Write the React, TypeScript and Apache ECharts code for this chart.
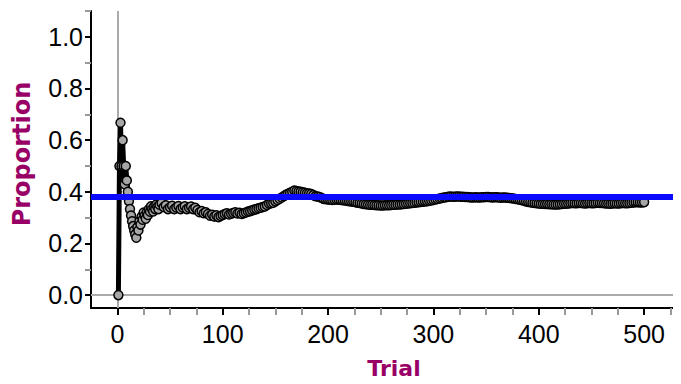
import React, { useEffect, useRef } from "react";
import * as echarts from "echarts";

// Trial numbers (x) and running proportion (y)
const trials = [
  1, 2, 3, 4, 5, 6, 7, 8, 9, 10,
  11, 12, 13, 14, 15, 16, 17, 18, 19, 20,
  21, 22, 23, 24, 25, 26, 27, 28, 29, 30,
  31, 32, 33, 34, 35, 36, 37, 38, 39, 40,
  42, 44, 46, 48, 50, 52, 54, 56, 58, 60,
  62, 64, 66, 68, 70, 72, 74, 76, 78, 80,
  82, 84, 86, 88, 90, 92, 94, 96, 98, 100,
  102, 104, 106, 108, 110, 112, 114, 116, 118, 120,
  122, 124, 126, 128, 130, 132, 134, 136, 138, 140,
  142, 144, 146, 148, 150, 152, 154, 156, 158, 160,
  162, 164, 166, 168, 170, 172, 174, 176, 178, 180,
  182, 184, 186, 188, 190, 192, 194, 196, 198, 200,
  202, 204, 206, 208, 210, 212, 214, 216, 218, 220,
  222, 224, 226, 228, 230, 232, 234, 236, 238, 240,
  242, 244, 246, 248, 250, 252, 254, 256, 258, 260,
  262, 264, 266, 268, 270, 272, 274, 276, 278, 280,
  282, 284, 286, 288, 290, 292, 294, 296, 298, 300,
  302, 304, 306, 308, 310, 312, 314, 316, 318, 320,
  322, 324, 326, 328, 330, 332, 334, 336, 338, 340,
  342, 344, 346, 348, 350, 352, 354, 356, 358, 360,
  362, 364, 366, 368, 370, 372, 374, 376, 378, 380,
  382, 384, 386, 388, 390, 392, 394, 396, 398, 400,
  402, 404, 406, 408, 410, 412, 414, 416, 418, 420,
  422, 424, 426, 428, 430, 432, 434, 436, 438, 440,
  442, 444, 446, 448, 450, 452, 454, 456, 458, 460,
  462, 464, 466, 468, 470, 472, 474, 476, 478, 480,
  482, 484, 486, 488, 490, 492, 494, 496, 498, 500,
];

const proportion = [
  0, 0.5, 0.667, 0.5, 0.6, 0.5, 0.429, 0.5, 0.444, 0.4,
  0.364, 0.333, 0.308, 0.286, 0.267, 0.25, 0.235, 0.222, 0.263, 0.25,
  0.286, 0.273, 0.304, 0.292, 0.32, 0.308, 0.296, 0.321, 0.31, 0.333,
  0.323, 0.344, 0.333, 0.324, 0.343, 0.333, 0.351, 0.342, 0.333, 0.35,
  0.357, 0.341, 0.348, 0.333, 0.34, 0.346, 0.333, 0.339, 0.345, 0.333,
  0.339, 0.344, 0.333, 0.338, 0.343, 0.333, 0.338, 0.329, 0.321, 0.325,
  0.317, 0.321, 0.314, 0.307, 0.311, 0.304, 0.309, 0.302, 0.306, 0.31,
  0.314, 0.317, 0.312, 0.315, 0.318, 0.321, 0.316, 0.319, 0.314, 0.317,
  0.32, 0.323, 0.325, 0.328, 0.331, 0.333, 0.336, 0.338, 0.341, 0.343,
  0.349, 0.354, 0.356, 0.358, 0.363, 0.368, 0.373, 0.378, 0.383, 0.388,
  0.392, 0.396, 0.4, 0.405, 0.403, 0.401, 0.4, 0.398, 0.396, 0.394,
  0.393, 0.391, 0.387, 0.383, 0.382, 0.38, 0.376, 0.372, 0.371, 0.37,
  0.369, 0.368, 0.369, 0.37, 0.369, 0.368, 0.367, 0.366, 0.365, 0.364,
  0.363, 0.362, 0.36, 0.358, 0.357, 0.355, 0.353, 0.352, 0.351, 0.35,
  0.35, 0.349, 0.348, 0.348, 0.347, 0.347, 0.348, 0.348, 0.348, 0.349,
  0.35, 0.35, 0.351, 0.351, 0.352, 0.353, 0.354, 0.355, 0.356, 0.357,
  0.358, 0.359, 0.36, 0.361, 0.362, 0.363, 0.364, 0.365, 0.366, 0.368,
  0.37, 0.372, 0.374, 0.376, 0.378, 0.379, 0.381, 0.382, 0.381, 0.381,
  0.382, 0.382, 0.381, 0.381, 0.38, 0.38, 0.379, 0.378, 0.378, 0.379,
  0.378, 0.378, 0.379, 0.379, 0.38, 0.38, 0.379, 0.378, 0.379, 0.379,
  0.378, 0.377, 0.378, 0.378, 0.377, 0.376, 0.375, 0.374, 0.372, 0.371,
  0.369, 0.367, 0.365, 0.363, 0.361, 0.36, 0.358, 0.357, 0.356, 0.355,
  0.354, 0.354, 0.353, 0.353, 0.352, 0.352, 0.351, 0.351, 0.351, 0.352,
  0.353, 0.354, 0.354, 0.355, 0.356, 0.357, 0.356, 0.356, 0.357, 0.357,
  0.356, 0.355, 0.356, 0.357, 0.356, 0.356, 0.357, 0.358, 0.357, 0.357,
  0.356, 0.355, 0.355, 0.354, 0.355, 0.356, 0.355, 0.355, 0.356, 0.357,
  0.356, 0.356, 0.357, 0.358, 0.359, 0.36, 0.36, 0.359, 0.359, 0.36,
];

const referenceProportion = 0.38;

const xMajorTicks = [0, 100, 200, 300, 400, 500];
const xMinorTicks = [
  25, 50, 75, 125, 150, 175, 225, 250, 275, 325, 350, 375, 425, 450, 475, 525,
];
const yMajorTicks = [0, 0.2, 0.4, 0.6, 0.8, 1.0];
const yMinorTicks = [0.1, 0.3, 0.5, 0.7, 0.9, 1.1];

const X_MIN = -25;
const X_MAX = 535;
const Y_MIN = -0.05;
const Y_MAX = 1.1;

const labelFont = '"Liberation Sans", Arial, sans-serif';
const nameFont = '"DejaVu Sans", Verdana, sans-serif';
const nameColor = "#990066";

export default function App() {
  const ref = useRef<HTMLDivElement>(null);

  useEffect(() => {
    if (!ref.current) return;
    const chart = echarts.init(ref.current, null, { renderer: "svg" });
    const points = trials.map((t, i) => [t, proportion[i]]);

    const hidden = { show: false };
    const option: any = {
      animation: false,
      backgroundColor: "#ffffff",
      grid: { left: 91, right: 0, top: 11, bottom: 76, containLabel: false },
      xAxis: [
        {
          type: "value",
          min: X_MIN,
          max: X_MAX,
          position: "bottom",
          axisLine: { show: true, onZero: false, lineStyle: { color: "#000", width: 2 } },
          axisTick: {
            show: true,
            customValues: xMajorTicks,
            length: 7,
            lineStyle: { color: "#000", width: 2 },
          },
          axisLabel: {
            customValues: xMajorTicks,
            color: "#000",
            fontSize: 25,
            fontFamily: labelFont,
            margin: 13,
          },
          splitLine: hidden,
        },
        {
          type: "value",
          min: X_MIN,
          max: X_MAX,
          position: "bottom",
          axisLine: { show: false, onZero: false },
          axisTick: {
            show: true,
            customValues: xMinorTicks,
            length: 7,
            lineStyle: { color: "#999", width: 2 },
          },
          axisLabel: hidden,
          splitLine: hidden,
        },
      ],
      yAxis: [
        {
          type: "value",
          min: Y_MIN,
          max: Y_MAX,
          position: "left",
          axisLine: { show: true, onZero: false, lineStyle: { color: "#000", width: 2 } },
          axisTick: {
            show: true,
            customValues: yMajorTicks,
            length: 6,
            lineStyle: { color: "#000", width: 2 },
          },
          axisLabel: {
            customValues: yMajorTicks,
            color: "#000",
            fontSize: 25,
            fontFamily: labelFont,
            margin: 8,
            formatter: (v: number) => v.toFixed(1),
          },
          splitLine: hidden,
        },
        {
          type: "value",
          min: Y_MIN,
          max: Y_MAX,
          position: "left",
          axisLine: { show: false, onZero: false },
          axisTick: {
            show: true,
            customValues: yMinorTicks,
            length: 6,
            lineStyle: { color: "#999", width: 2 },
          },
          axisLabel: hidden,
          splitLine: hidden,
        },
      ],
      series: [
        {
          type: "line",
          xAxisIndex: 0,
          yAxisIndex: 0,
          data: [],
          z: 1,
          silent: true,
          markLine: {
            silent: true,
            z: 1,
            symbol: ["none", "none"],
            label: { show: false },
            lineStyle: { color: "#aaaaaa", width: 2, type: "solid" },
            data: [{ xAxis: 0 }, { yAxis: 0 }],
          },
        },
        {
          type: "line",
          xAxisIndex: 0,
          yAxisIndex: 0,
          data: points,
          z: 3,
          symbol: "circle",
          symbolSize: 9,
          showSymbol: true,
          showAllSymbol: true,
          lineStyle: { color: "#000", width: 5 },
          itemStyle: { color: "#a6a6a6", borderColor: "#000", borderWidth: 1.5 },
          markLine: {
            silent: true,
            z: 6,
            symbol: ["none", "none"],
            label: { show: false },
            lineStyle: { color: "#0a0aff", width: 6, type: "solid" },
            data: [{ yAxis: referenceProportion }],
          },
        },
      ],
      graphic: [
        {
          type: "text",
          x: 394,
          y: 368,
          style: {
            text: "Trial",
            fill: nameColor,
            font: `bold 22px ${nameFont}`,
            align: "center",
            verticalAlign: "middle",
          },
        },
        {
          type: "text",
          x: 22,
          y: 154,
          rotation: Math.PI / 2,
          style: {
            text: "Proportion",
            fill: nameColor,
            font: `bold 24px ${nameFont}`,
            align: "center",
            verticalAlign: "middle",
          },
        },
      ],
    };

    chart.setOption(option);
    return () => chart.dispose();
  }, []);

  return <div ref={ref} style={{ width: 681, height: 384, margin: -8 }} />;
}
